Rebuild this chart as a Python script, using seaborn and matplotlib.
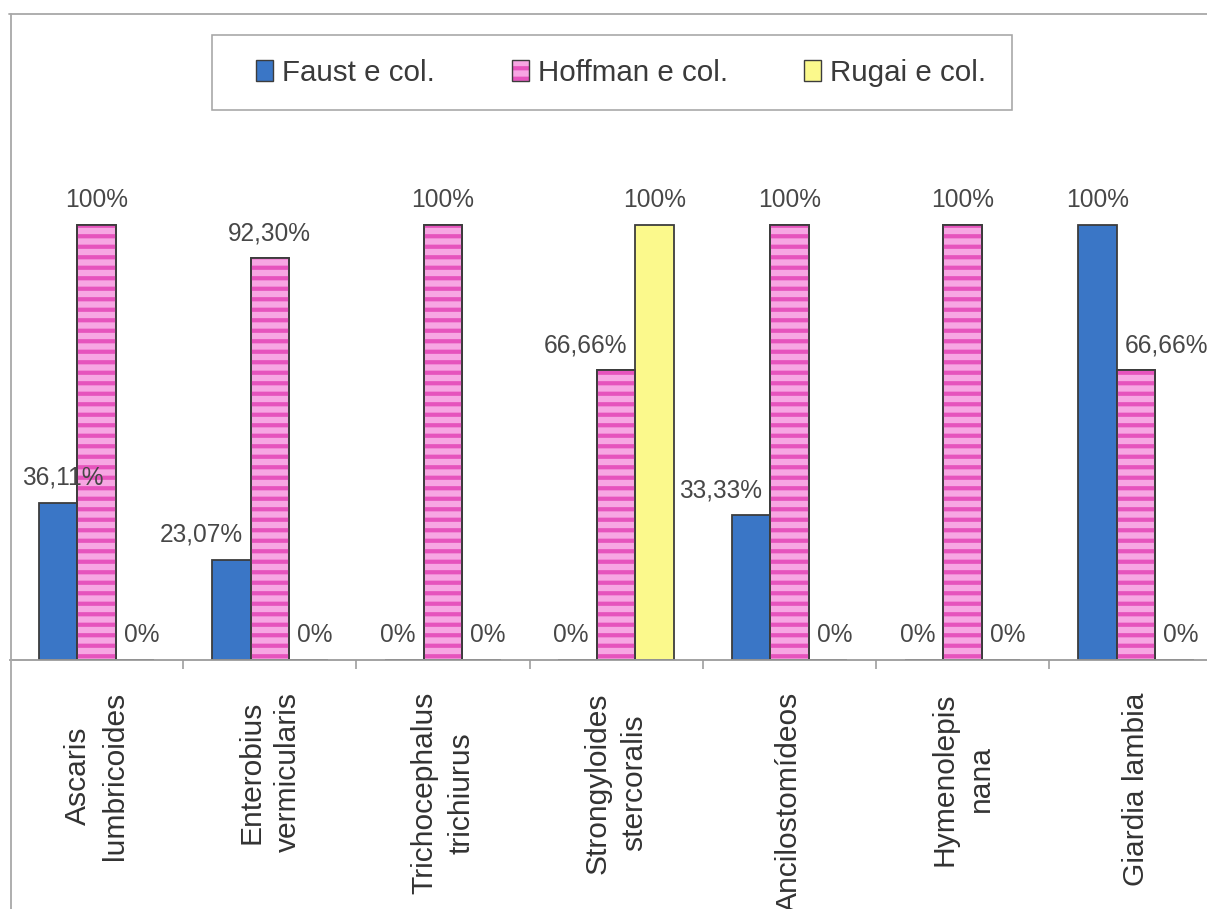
import matplotlib
matplotlib.use("Agg")
import matplotlib.pyplot as plt
import pandas as pd
import seaborn as sns
from matplotlib.patches import Patch, Rectangle
from matplotlib.lines import Line2D
from matplotlib.legend_handler import HandlerTuple
from matplotlib.font_manager import FontProperties

# ---- data -------------------------------------------------------------
categories = [
    "Ascaris\nlumbricoides",
    "Enterobius\nvermicularis",
    "Trichocephalus\ntrichiurus",
    "Strongyloides\nstercoralis",
    "Ancilostomídeos",
    "Hymenolepis\nnana",
    "Giardia lambia",
]
series = ["Faust e col.", "Hoffman e col.", "Rugai e col."]
faust = [36.11, 23.07, 0, 0, 33.33, 0, 100]
hoffman = [100, 92.30, 100, 66.66, 100, 100, 66.66]
rugai = [0, 0, 0, 100, 0, 0, 0]

colors = ["#3a76c6", "#f7a6e3", "#fbf98c"]
stripe_color = "#e653bd"
edge_color = "#3c3c3c"

df = pd.DataFrame({
    "category": categories * 3,
    "series": [s for s in series for _ in categories],
    "value": faust + hoffman + rugai,
})

# ---- figure geometry (sizes given in pixels) ---------------------------
W, H, DPI = 1207, 909, 126


def pt(px):
    """pixels -> points at the figure dpi"""
    return px * 72 / DPI


sns.set_theme(style="white")
plt.rcParams["font.family"] = ["Liberation Sans", "DejaVu Sans"]
plt.rcParams["hatch.linewidth"] = pt(4.2)
narrow = ["Liberation Sans Narrow", "Liberation Sans", "DejaVu Sans"]

fig = plt.figure(figsize=(W / DPI, H / DPI), dpi=DPI)
fig.patch.set_facecolor("white")

px_per_unit = 4.35
base_y, top_y = 660, 150
left_x, cat_w = 10, 173.2
ax = fig.add_axes([left_x / W, (H - base_y) / H,
                   cat_w * len(categories) / W, (base_y - top_y) / H])

sns.barplot(data=df, x="category", y="value", hue="series",
            order=categories, hue_order=series, palette=colors,
            width=0.667, saturation=1, errorbar=None, legend=False,
            edgecolor=edge_color, linewidth=pt(1.8), ax=ax)

ax.set_xlim(-0.5, len(categories) - 0.5)
ax.set_ylim(0, (base_y - top_y) / px_per_unit)

# horizontal stripes on the Hoffman bars
for bar in ax.containers[1]:
    ax.add_patch(Rectangle((bar.get_x(), 0), bar.get_width(), bar.get_height(),
                           fill=False, hatch="--", edgecolor=stripe_color,
                           linewidth=0, zorder=bar.get_zorder() + 0.1))
    ax.add_patch(Rectangle((bar.get_x(), 0), bar.get_width(), bar.get_height(),
                           fill=False, edgecolor=edge_color, linewidth=pt(1.8),
                           zorder=bar.get_zorder() + 0.2))

# ---- axes cosmetics ---------------------------------------------------
for side in ["left", "right", "top"]:
    ax.spines[side].set_visible(False)
ax.spines["bottom"].set_color("#9a9a9a")
ax.spines["bottom"].set_linewidth(pt(1.8))
ax.set_yticks([])
ax.set_xlabel("")
ax.set_ylabel("")
ax.set_xticks([i + 0.5 for i in range(len(categories) - 1)], minor=True)
ax.tick_params(axis="x", which="minor", length=pt(8.5), width=pt(1.6),
               color="#9a9a9a", direction="out", bottom=True)
ax.tick_params(axis="x", which="major", length=0, pad=pt(32),
               labelsize=pt(30), labelcolor="#333333", labelrotation=90)
for t in ax.get_xticklabels():
    t.set_multialignment("center")
    t.set_linespacing(1.38)

# ---- value labels -----------------------------------------------------
def pct(v):
    if float(v).is_integer():
        return f"{int(v)}%"
    return f"{v:.2f}".replace(".", ",") + "%"

label_rise = pt(18)
labels = []
for ci, cont in enumerate(ax.containers):
    for bi, bar in enumerate(cont):
        v = cont.datavalues[bi]
        xc = bar.get_x() + bar.get_width() / 2
        ann = ax.annotate(pct(v), (xc, v), xytext=(0, label_rise),
                          textcoords="offset points", ha="center",
                          va="baseline", fontsize=pt(24.5), family=narrow,
                          color="#474747", annotation_clip=False)
        labels.append((ci, bi, ann))

# keep labels clear of taller neighbouring bars in the same group
fig.canvas.draw()
renderer = fig.canvas.get_renderer()
margin, min_left = 8, 22
conts = ax.containers
for ci, bi, ann in labels:
    bb = ann.get_window_extent(renderer)
    shift = 0.0
    if ci > 0:
        nb = conts[ci - 1][bi].get_window_extent(renderer)
        if nb.y1 > bb.y0 and bb.x0 < nb.x1 + margin:
            shift = nb.x1 + margin - bb.x0
    if ci < len(conts) - 1:
        nb = conts[ci + 1][bi].get_window_extent(renderer)
        if nb.y1 > bb.y0 and bb.x1 > nb.x0 - margin:
            shift = (nb.x0 - margin) - bb.x1
    if bb.x0 + shift < min_left:
        shift = min_left - bb.x0
    ann.xyann = (pt(shift), label_rise)

# ---- legend -----------------------------------------------------------
leg_px = 29.5
h_faust = Patch(facecolor=colors[0], edgecolor=edge_color, linewidth=pt(1.4))
h_hoff = (Patch(facecolor=colors[1], edgecolor="none"),
          Patch(fill=False, hatch="--", edgecolor=stripe_color, linewidth=0),
          Patch(fill=False, edgecolor=edge_color, linewidth=pt(1.4)))
h_rugai = Patch(facecolor=colors[2], edgecolor=edge_color, linewidth=pt(1.4))
fig.legend([h_faust, h_hoff, h_rugai], series, ncol=3, frameon=False,
           loc="center left", bbox_to_anchor=(256 / W, 1 - 73 / H),
           bbox_transform=fig.transFigure,
           prop=FontProperties(family=narrow, size=pt(leg_px)),
           labelcolor="#3a3a3a", handlelength=17 / leg_px,
           handleheight=22 / leg_px, handletextpad=9 / leg_px,
           columnspacing=2.6, borderpad=0, borderaxespad=0,
           handler_map={tuple: HandlerTuple(ndivide=1, pad=0)})
fig.add_artist(Rectangle((212 / W, 1 - 110 / H), 800 / W, 75 / H,
                         transform=fig.transFigure, fill=False,
                         edgecolor="#a6a6a6", linewidth=pt(1.6)))

# chart-area border
fig.add_artist(Line2D([9 / W, 1], [1 - 14 / H] * 2, transform=fig.transFigure,
                      color="#a8a8a8", linewidth=pt(1.8)))
fig.add_artist(Line2D([11 / W] * 2, [0, 1 - 14 / H], transform=fig.transFigure,
                      color="#a8a8a8", linewidth=pt(1.8)))

fig.savefig("out.png", dpi=DPI)
